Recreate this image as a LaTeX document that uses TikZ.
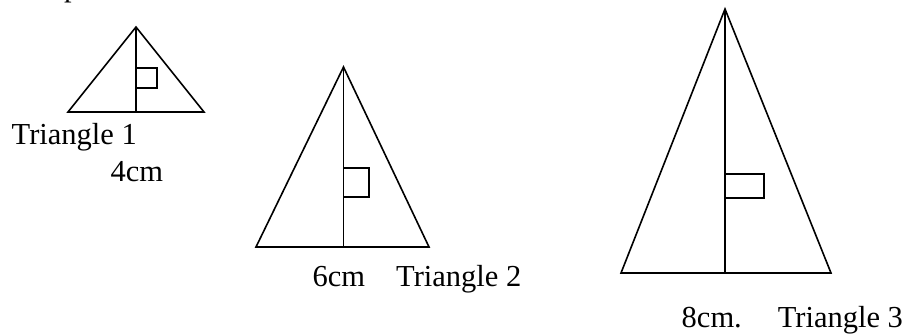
\documentclass[tikz,border=0pt]{standalone}
\usepackage{fontspec}
\setmainfont{Liberation Serif}
\begin{document}
\begin{tikzpicture}[x=1pt,y=-1pt,
  edge/.style={draw=black,line width=1.6pt},
  lbl/.style={inner sep=0pt,anchor=base west,font=\fontsize{30.5}{36}\selectfont}]
\useasboundingbox (0,0) rectangle (907,333);
% cut-off text fragment at the top
\node[lbl] (frag) at (64,-3.5) {p};
% Triangle 1
\coordinate (t1a) at (136,27);
\coordinate (t1l) at (68,112);
\coordinate (t1r) at (204,112);
\coordinate (t1f) at (136,112);
\draw[edge] (t1a) -- (t1l) -- (t1r) -- cycle;
\draw[edge] (t1a) -- (t1f);
\draw[edge] (136,68) rectangle (157,88);
\node[lbl] (l1) at (11.5,144) {Triangle 1};
\node[lbl] (d1) at (110.5,181) {4cm};
% Triangle 2
\coordinate (t2a) at (343.5,67);
\coordinate (t2l) at (256,247);
\coordinate (t2r) at (429,247);
\coordinate (t2f) at (343.5,247);
\draw[edge] (t2a) -- (t2l) -- (t2r) -- cycle;
\draw[edge] (t2a) -- (t2f);
\draw[edge] (343.5,168) rectangle (369,197);
\node[lbl] (l2) at (312.5,286) {6cm\hspace{31pt}Triangle 2};
% Triangle 3
\coordinate (t3a) at (725,9);
\coordinate (t3l) at (621,273);
\coordinate (t3r) at (831,273);
\coordinate (t3f) at (725,273);
\draw[edge] (t3a) -- (t3l) -- (t3r) -- cycle;
\draw[edge] (t3a) -- (t3f);
\draw[edge] (725,174) rectangle (764,198);
\node[lbl] (l3) at (681.5,327) {8cm.\hspace{36pt}Triangle 3};
\end{tikzpicture}
\end{document}
